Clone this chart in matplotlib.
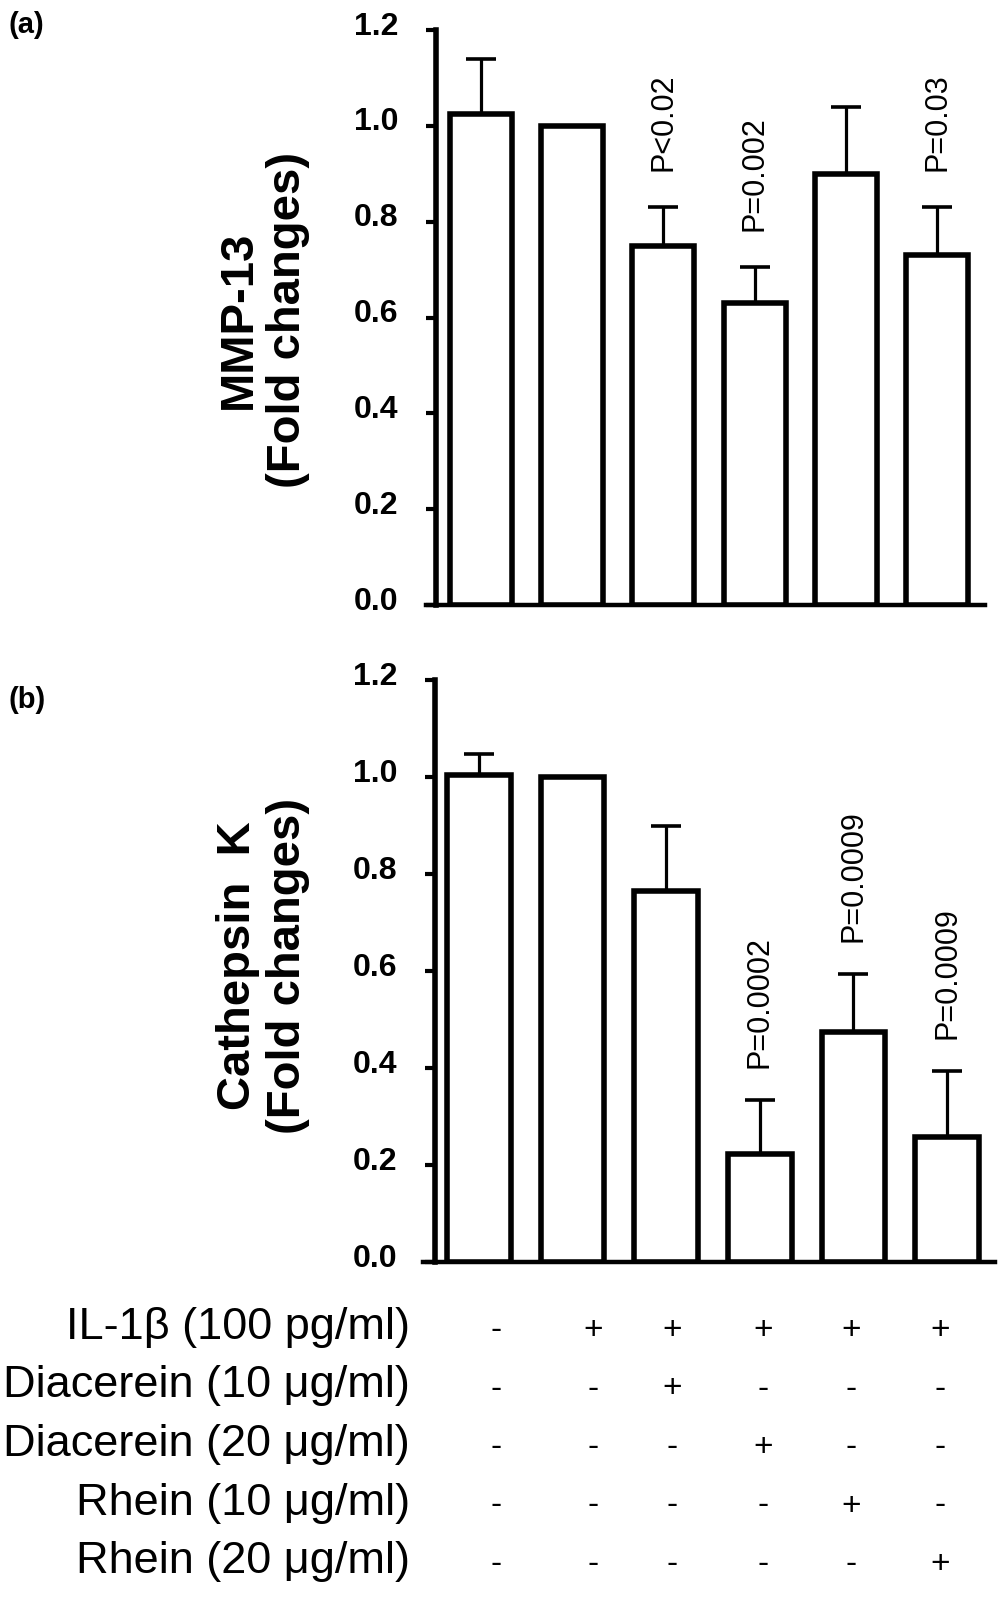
import matplotlib
matplotlib.use("Agg")
import matplotlib.pyplot as plt
from matplotlib.transforms import ScaledTranslation

plt.rcParams['font.family'] = ['Liberation Sans', 'DejaVu Sans']

# data
groups = [0, 1, 2, 3, 4, 5]
mmp13 = [1.025, 1.00, 0.75, 0.63, 0.90, 0.73]
mmp13_sem = [0.115, 0.0, 0.08, 0.075, 0.14, 0.10]
mmp13_p = [None, None, 'P<0.02', 'P=0.002', None, 'P=0.03']

catk = [1.005, 1.00, 0.765, 0.222, 0.474, 0.258]
catk_sem = [0.042, 0.0, 0.135, 0.113, 0.12, 0.136]
catk_p = [None, None, None, 'P=0.0002', 'P=0.0009', 'P=0.0009']

yticks = [0.0, 0.2, 0.4, 0.6, 0.8, 1.0, 1.2]

treatments = ['IL-1\u03b2 (100 pg/ml)', 'Diacerein (10 \u03bcg/ml)',
              'Diacerein (20 \u03bcg/ml)', 'Rhein (10 \u03bcg/ml)',
              'Rhein (20 \u03bcg/ml)']
design = [
    ['-', '+', '+', '+', '+', '+'],
    ['-', '-', '+', '-', '-', '-'],
    ['-', '-', '-', '+', '-', '-'],
    ['-', '-', '-', '-', '+', '-'],
    ['-', '-', '-', '-', '-', '+'],
]

W, H = 1004, 1611
fig = plt.figure(figsize=(W / 100, H / 100), dpi=100)


def px_axes(left, right, top, bottom):
    return fig.add_axes([left / W, 1 - bottom / H,
                         (right - left) / W, (bottom - top) / H])


def draw_panel(ax, vals, sem, pvals, c0, step, spine_px, gap):
    left_px = ax.get_position().x0 * W
    right_px = ax.get_position().x1 * W
    ax.set_xlim((left_px - c0) / step, (right_px - c0) / step)
    ax.set_ylim(0, 1.2)
    ax.bar(groups, vals, width=0.68, color='white', edgecolor='black',
           linewidth=4, zorder=3)
    idx = [i for i, s in enumerate(sem) if s > 0]
    ax.errorbar([groups[i] for i in idx], [vals[i] for i in idx],
                yerr=[[0] * len(idx), [sem[i] for i in idx]],
                fmt='none', ecolor='black', elinewidth=2.3, capsize=10.5,
                capthick=2.6, zorder=2)
    for i, p in enumerate(pvals):
        if p is None:
            continue
        ax.annotate(p, xy=(groups[i], vals[i] + sem[i]), xytext=(0, gap),
                    textcoords='offset points', rotation=90, ha='center',
                    va='bottom', fontsize=22)
    for s in ('top', 'right'):
        ax.spines[s].set_visible(False)
    ax.spines['left'].set_position(('data', (spine_px - c0) / step))
    ax.spines['left'].set_bounds(0, 1.2)
    ax.spines['left'].set_linewidth(4)
    ax.spines['bottom'].set_linewidth(3.2)
    ax.set_xticks([])
    ax.set_yticks(yticks)
    ax.set_yticklabels([f'{t:.1f}' for t in yticks], fontweight='bold',
                       fontsize=23)
    ax.tick_params(axis='y', length=7, width=3, pad=20)
    # labels sit a little above their ticks in the original
    lift = ScaledTranslation(0, 5 / 72, fig.dpi_scale_trans)
    for tick in ax.yaxis.get_major_ticks():
        tick.label1.set_transform(tick.label1.get_transform() + lift)


ax_a = px_axes(426, 985, 30, 605)
draw_panel(ax_a, mmp13, mmp13_sem, mmp13_p, 481, 91.2, 436, 26)

ax_b = px_axes(423, 995, 680, 1262)
draw_panel(ax_b, catk, catk_sem, catk_p, 479, 93.6, 435, 23)

fig.text(263 / W, 1 - 320 / H, 'MMP-13\n(Fold changes)', rotation=90,
         ha='center', va='center', fontsize=34, fontweight='bold',
         linespacing=1.15, multialignment='center')
fig.text(263 / W, 1 - 966 / H, 'Cathepsin  K\n(Fold changes)', rotation=90,
         ha='center', va='center', fontsize=34, fontweight='bold',
         linespacing=1.15, multialignment='center')

fig.text(9 / W, 1 - 25 / H, '(a)', ha='left', va='center', fontsize=21,
         fontweight='bold')
fig.text(9 / W, 1 - 700 / H, '(b)', ha='left', va='center', fontsize=21,
         fontweight='bold')

# treatment table under the bars
col_px = [496, 593, 672, 763, 851, 940]
for r, (name, row) in enumerate(zip(treatments, design)):
    y = 1 - (1339 + 58.5 * r) / H
    fig.text(410 / W, y, name, ha='right', va='baseline', fontsize=32.5)
    for x, sign in zip(col_px, row):
        fig.text(x / W, y, sign, ha='center', va='baseline', fontsize=24)

fig.savefig('out.png', dpi=100)
